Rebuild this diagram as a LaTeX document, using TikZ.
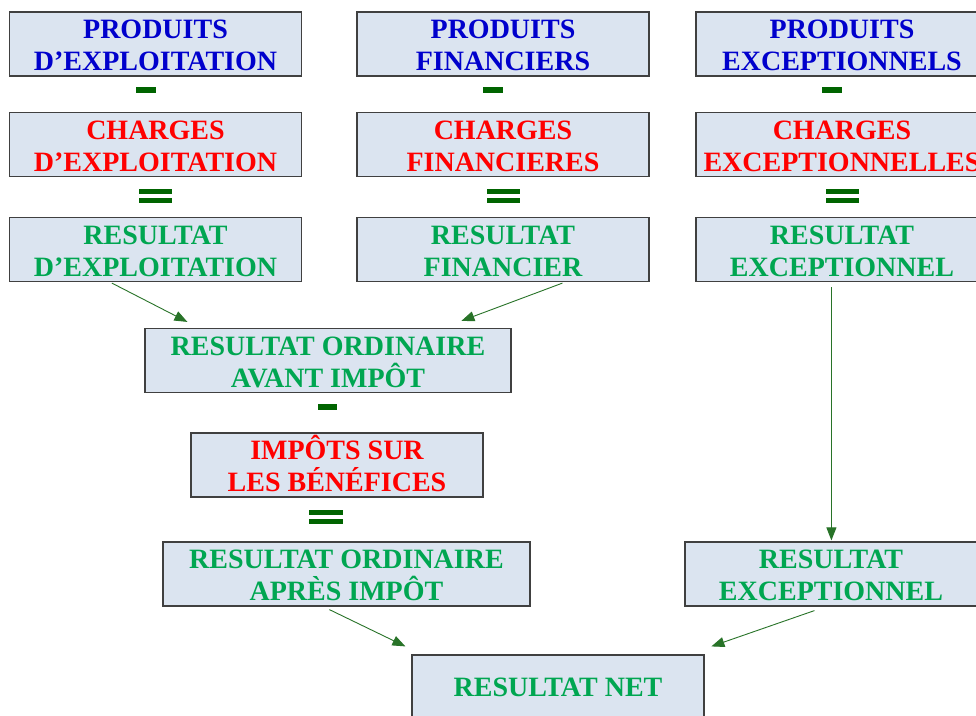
\documentclass[tikz,border=0pt]{standalone}
\usepackage{fontspec}
\setmainfont{Liberation Serif}
\usetikzlibrary{arrows.meta,calc}
\definecolor{boxfill}{RGB}{219,228,240}
\definecolor{boxline}{RGB}{64,64,64}
\definecolor{tblue}{RGB}{0,0,204}
\definecolor{tred}{RGB}{255,0,0}
\definecolor{tgreen}{RGB}{0,166,81}
\definecolor{sgreen}{RGB}{0,100,0}
\definecolor{agreen}{RGB}{40,115,40}
\newcommand\twol[2]{\rule{0pt}{24pt}#1\\#2\rule[-3pt]{0pt}{3pt}}
\begin{document}
\begin{tikzpicture}[x=1pt,y=-1pt,
  box/.style={draw=boxline, line width=1.2pt, fill=boxfill, minimum height=64pt,
    inner sep=0pt, align=center, font=\fontsize{28}{32}\selectfont\bfseries},
  wbox/.style={box, minimum width=292pt},
  lbox/.style={box, minimum width=367pt},
  sign/.style={fill=sgreen},
  flow/.style={draw=agreen, line width=0.9pt, -{Triangle[length=13pt,width=10pt]}}
]
\useasboundingbox (0,0) rectangle (976,715);
\fill[white] (0,0) rectangle (976,715);

% row 1
\node[wbox, text=tblue] (A1) at (155.5,44) {\twol{PRODUITS}{D’EXPLOITATION}};
\node[wbox, text=tblue] (B1) at (503,44) {\twol{PRODUITS}{FINANCIERS}};
\node[wbox, text=tblue] (C1) at (842,44) {\twol{PRODUITS}{EXCEPTIONNELS}};
% row 2
\node[wbox, text=tred] (A2) at (155.5,144.5) {\twol{CHARGES}{D’EXPLOITATION}};
\node[wbox, text=tred] (B2) at (503,144.5) {\twol{CHARGES}{FINANCIERES}};
\node[wbox, text=tred] (C2) at (842,144.5) {\twol{CHARGES}{EXCEPTIONNELLES}};
% row 3
\node[wbox, text=tgreen] (A3) at (155.5,249.5) {\twol{RESULTAT}{D’EXPLOITATION}};
\node[wbox, text=tgreen] (B3) at (503,249.5) {\twol{RESULTAT}{FINANCIER}};
\node[wbox, text=tgreen] (C3) at (842,249.5) {\twol{RESULTAT}{EXCEPTIONNEL}};

% lower part
\node[box, minimum width=366pt, text=tgreen] (D) at (328,360.5) {\twol{RESULTAT ORDINAIRE}{AVANT IMPÔT}};
\node[wbox, text=tred] (E) at (337,465) {\twol{IMPÔTS SUR}{LES BÉNÉFICES}};
\node[lbox, text=tgreen] (F) at (346.5,574) {\twol{RESULTAT ORDINAIRE}{APRÈS IMPÔT}};
\node[wbox, text=tgreen] (G) at (831,574) {\twol{RESULTAT}{EXCEPTIONNEL}};
\node[wbox, text=tgreen] (H) at (558,687) {RESULTAT NET};

% minus and equal signs
\foreach \c in {155.5,503,842}{
  \fill[sign] (\c-20,87) rectangle (\c,93);
  \fill[sign] (\c-16.5,189) rectangle (\c+16.5,193.5);
  \fill[sign] (\c-16.5,198) rectangle (\c+16.5,202.5);
}
\fill[sign] (318,404) rectangle (337,410);
\fill[sign] (309,510) rectangle (343,514.5);
\fill[sign] (309,519) rectangle (343,523.5);

% arrows
\draw[flow] ($(A3.south west)+(103,1)$) -- ($(D.north west)+(43,-6)$);
\draw[flow] ($(B3.south west)+(206,1)$) -- ($(D.north west)+(317,-7)$);
\draw[flow] ($(C3.south west)+(136,5)$) -- ($(G.north west)+(147,-1)$);
\draw[flow] ($(F.south west)+(167,3)$) -- ($(H.north west)+(-6,-8)$);
\draw[flow] ($(G.south west)+(130,4)$) -- ($(H.north west)+(300,-8)$);
\end{tikzpicture}
\end{document}
